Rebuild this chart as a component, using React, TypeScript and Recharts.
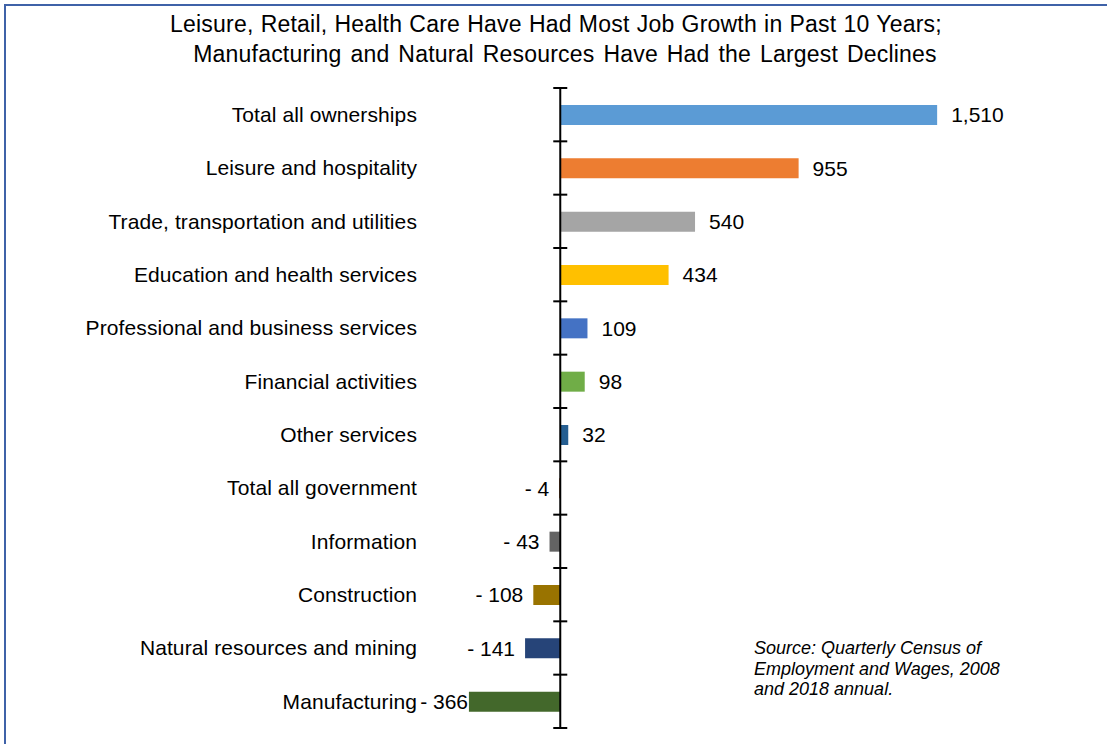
import React from 'react';
import { BarChart, Bar, XAxis, YAxis, Cell, LabelList, ReferenceLine } from 'recharts';

const categories = [
  'Total all ownerships',
  'Leisure and hospitality',
  'Trade, transportation and utilities',
  'Education and health services',
  'Professional and business services',
  'Financial activities',
  'Other services',
  'Total all government',
  'Information',
  'Construction',
  'Natural resources and mining',
  'Manufacturing',
];
const values = [1510, 955, 540, 434, 109, 98, 32, -4, -43, -108, -141, -366];
const barColors = [
  '#5B9BD5', '#ED7D31', '#A5A5A5', '#FFC000', '#4472C4', '#70AD47',
  '#255E91', '#9E480E', '#636363', '#997300', '#264478', '#43682B',
];
const titleLines = [
  'Leisure, Retail, Health Care Have Had Most Job Growth in Past 10 Years;',
  'Manufacturing and Natural Resources Have Had the Largest Declines',
];
const sourceLines = [
  'Source: Quarterly Census of',
  'Employment and Wages, 2008',
  'and 2018 annual.',
];

const data = categories.map((name, i) => ({ name, value: values[i] }));

const FONT = 'Arial, "Liberation Sans", sans-serif';

const fmt = (v: number) => (v < 0 ? `- ${Math.abs(v)}` : v.toLocaleString('en-US'));

const renderLabel = (props: any) => {
  const vb = props.viewBox || {};
  const x = Number(props.x ?? vb.x);
  const y = Number(props.y ?? vb.y);
  const w = Number(props.width ?? vb.width);
  const h = Number(props.height ?? vb.height);
  const v = Number(props.value);
  const left = Math.min(x, x + w);
  const right = Math.max(x, x + w);
  const cy = y + h / 2;
  if (v >= 0) {
    return (
      <text x={right + 14} y={cy} dy="0.35em" textAnchor="start" fontSize={21} fontFamily={FONT} fill="#000">
        {fmt(v)}
      </text>
    );
  }
  const endX = Math.max(left - 10, 468);
  return (
    <text x={endX} y={cy} dy="0.35em" textAnchor="end" fontSize={21} fontFamily={FONT} fill="#000">
      {fmt(v)}
    </text>
  );
};

const axisShape = (props: any) => {
  const { x1, y1, x2, y2 } = props;
  const n = categories.length;
  const ticks = [];
  for (let i = 0; i <= n; i++) {
    const y = y1 + ((y2 - y1) * i) / n;
    ticks.push(<line key={i} x1={x1 - 7} x2={x1 + 7} y1={y} y2={y} stroke="#000" strokeWidth={2} />);
  }
  return (
    <g>
      <line x1={x1} y1={y1} x2={x2} y2={y2} stroke="#000" strokeWidth={2} />
      {ticks}
    </g>
  );
};

export default function App() {
  return (
    <div style={{ position: 'absolute', left: 0, top: 0, width: 1107, height: 744, background: '#fff', overflow: 'hidden', fontFamily: FONT }}>
      <div style={{ position: 'absolute', left: 4, top: 4, width: 1200, height: 900, border: '2px solid #3F62A8' }} />
      {titleLines.map((t, i) => (
        <div key={i} style={{ position: 'absolute', left: i === 1 ? 9 : 0, width: 1112, top: 9 + i * 30, lineHeight: '30px', fontSize: 23, letterSpacing: 0.2, wordSpacing: i === 1 ? 2.3 : 0.6, textAlign: 'center', color: '#000', whiteSpace: 'nowrap' }}>
          {t}
        </div>
      ))}
      <div style={{ position: 'absolute', left: 0, top: 0 }}>
        <BarChart width={1107} height={744} layout="vertical" data={data} margin={{ top: 88, right: 85, bottom: 16, left: 0 }}>
          <XAxis type="number" domain={[-570, 1850]} allowDataOverflow hide />
          <YAxis
            type="category"
            dataKey="name"
            width={418}
            axisLine={false}
            tickLine={false}
            tickSize={0}
            tickMargin={1}
            interval={0}
            tick={{ fontSize: 21, fill: '#000', fontFamily: FONT, letterSpacing: 0.1 }}
          />
          <Bar dataKey="value" barSize={20} isAnimationActive={false}>
            {data.map((d, i) => (
              <Cell key={d.name} fill={barColors[i]} />
            ))}
            <LabelList dataKey="value" content={renderLabel} />
          </Bar>
          <ReferenceLine x={0} shape={axisShape} ifOverflow="visible" />
        </BarChart>
      </div>
      {sourceLines.map((t, i) => (
        <div key={i} style={{ position: 'absolute', left: 754, top: 638 + i * 20.5, lineHeight: '20.5px', fontSize: 18, fontStyle: 'italic', color: '#000', whiteSpace: 'nowrap' }}>
          {t}
        </div>
      ))}
    </div>
  );
}
